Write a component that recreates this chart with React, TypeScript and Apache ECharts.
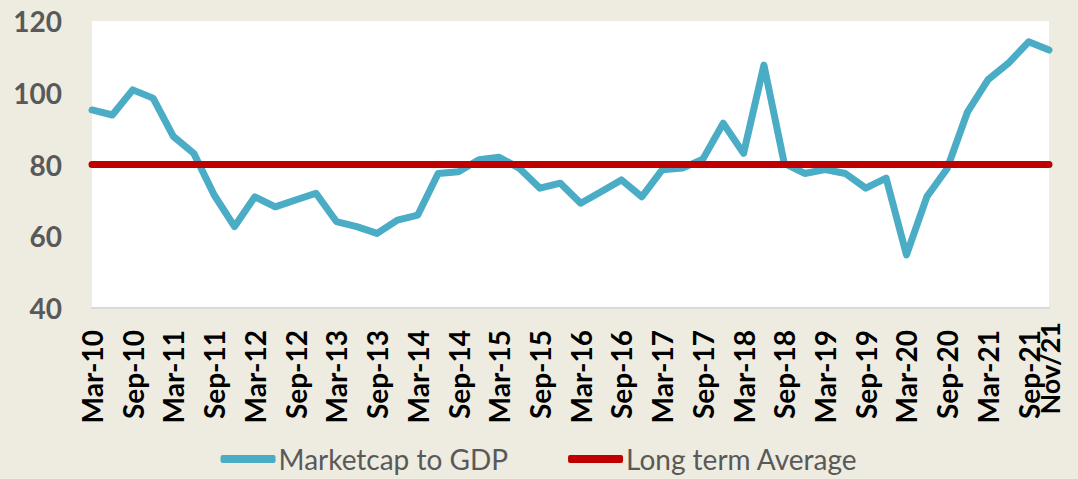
import React, { useEffect, useRef } from "react";
import * as echarts from "echarts";

const categories = [
  "Mar-10","Jun-10","Sep-10","Dec-10","Mar-11","Jun-11","Sep-11","Dec-11",
  "Mar-12","Jun-12","Sep-12","Dec-12","Mar-13","Jun-13","Sep-13","Dec-13",
  "Mar-14","Jun-14","Sep-14","Dec-14","Mar-15","Jun-15","Sep-15","Dec-15",
  "Mar-16","Jun-16","Sep-16","Dec-16","Mar-17","Jun-17","Sep-17","Dec-17",
  "Mar-18","Jun-18","Sep-18","Dec-18","Mar-19","Jun-19","Sep-19","Dec-19",
  "Mar-20","Jun-20","Sep-20","Dec-20","Mar-21","Jun-21","Sep-21","Nov/21",
];

const marketcapToGdp = [
  95.2, 93.8, 100.8, 98.5, 87.8, 83.1, 71.5, 62.7, 71, 68.2,
  70.1, 72, 64.1, 62.7, 60.8, 64.5, 65.9, 77.5, 78, 81.3,
  82, 78.9, 73.4, 74.8, 69.2, 72.4, 75.7, 71, 78.5, 79,
  81.5, 91.5, 83.1, 107.7, 80.3, 77.5, 78.6, 77.5, 73.4, 76.2,
  54.8, 71, 78.9, 94.7, 103.6, 108.2, 114.2, 111.9,
];

const longTermAverageValue = 80;
const longTermAverage = categories.map(() => longTermAverageValue);

const yTicks = { min: 40, max: 120, interval: 20 };

export default function App() {
  const ref = useRef<HTMLDivElement>(null);
  useEffect(() => {
    document.body.style.margin = "0";
    const chart = echarts.init(ref.current!, null, { renderer: "svg" });
    const font = "Lato, 'Open Sans', sans-serif";
    const last = categories.length - 1;
    chart.setOption({
      animation: false,
      backgroundColor: "#EEEBE0",
      textStyle: { fontFamily: font },
      grid: {
        left: 92,
        right: 29,
        top: 21,
        bottom: 171,
        show: true,
        backgroundColor: "#FFFFFF",
        borderWidth: 0,
      },
      legend: {
        bottom: 1,
        left: "center",
        icon: "roundRect",
        itemWidth: 55,
        itemHeight: 8,
        itemGap: 60,
        textStyle: { color: "#595959", fontSize: 28, fontFamily: font, padding: [0, 0, 0, -2] },
        data: ["Marketcap to GDP", "Long term Average"],
      },
      xAxis: [
        {
          type: "category",
          data: categories,
          boundaryGap: false,
          axisLine: { lineStyle: { color: "#D9D9D9", width: 2 } },
          axisTick: { show: false },
          splitLine: { show: false },
          axisLabel: {
            rotate: 90,
            margin: 22,
            color: "#000000",
            fontWeight: "bold",
            fontSize: 28,
            fontFamily: font,
            interval: (i: number) => i % 2 === 0 && i !== last,
          },
        },
        {
          type: "category",
          data: categories,
          boundaryGap: false,
          position: "bottom",
          axisLine: { show: false },
          axisTick: { show: false },
          splitLine: { show: false },
          axisLabel: {
            rotate: 90,
            margin: 14,
            color: "#000000",
            fontWeight: "bold",
            fontSize: 27,
            fontFamily: font,
            showMaxLabel: true,
            interval: (i: number) => i === last,
          },
        },
      ],
      yAxis: {
        type: "value",
        min: yTicks.min,
        max: yTicks.max,
        interval: yTicks.interval,
        axisLine: { show: false },
        axisTick: { show: false },
        splitLine: { show: false },
        axisLabel: {
          margin: 30,
          color: "#595959",
          fontWeight: "bold",
          fontSize: 28,
          fontFamily: font,
        },
      },
      series: [
        {
          name: "Marketcap to GDP",
          type: "line",
          data: marketcapToGdp,
          showSymbol: false,
          symbol: "none",
          itemStyle: { color: "#4BACC6" },
          lineStyle: { color: "#4BACC6", width: 7, cap: "round", join: "round" },
          z: 3,
        },
        {
          name: "Long term Average",
          type: "line",
          data: longTermAverage,
          showSymbol: false,
          symbol: "none",
          itemStyle: { color: "#C00000" },
          lineStyle: { color: "#C00000", width: 7, cap: "round" },
          z: 4,
        },
      ],
    });
    return () => chart.dispose();
  }, []);
  return <div ref={ref} style={{ width: 1078, height: 479 }} />;
}
